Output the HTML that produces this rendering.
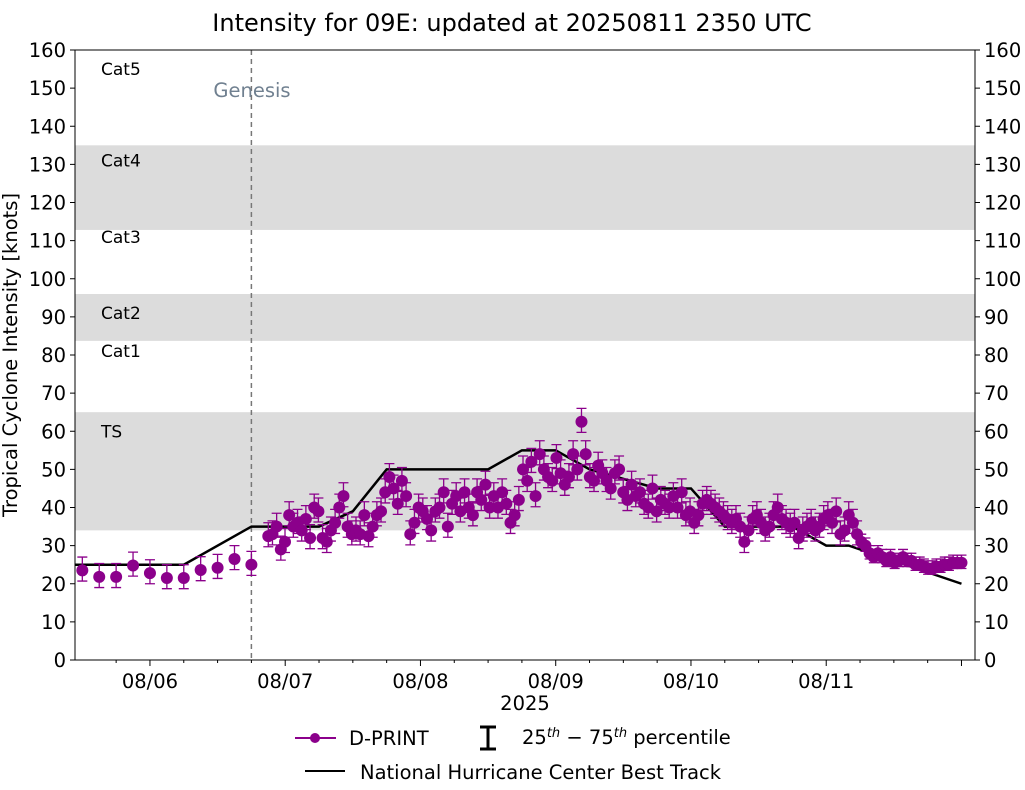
<!DOCTYPE html>
<html><head><meta charset="utf-8"><style>
body{margin:0;background:#fff;}
svg text{font-family:"DejaVu Sans","Liberation Sans",sans-serif;}
</style></head><body>
<svg id="chart" width="1025" height="785" xmlns="http://www.w3.org/2000/svg">
<text x="512" y="31" font-size="24" text-anchor="middle">Intensity for 09E: updated at 20250811 2350 UTC</text>
<g id="plot"></g>
<text transform="translate(17,355) rotate(-90)" font-size="19.5" text-anchor="middle">Tropical Cyclone Intensity [knots]</text>
<text x="525" y="710" font-size="19.5" text-anchor="middle">2025</text>
<g>
<line x1="295" y1="738" x2="336" y2="738" stroke="#8b008b" stroke-width="2"/>
<circle cx="315" cy="738" r="5" fill="#8b008b"/>
<text x="349" y="745" font-size="19.5">D-PRINT</text>
<path d="M480 727h16M488 727v22M480 749h16" stroke="#000" stroke-width="3" fill="none"/>
<text x="522" y="744" font-size="19.5">25<tspan font-size="13" dy="-7" font-style="italic">th</tspan><tspan dy="7"> − 75</tspan><tspan font-size="13" dy="-7" font-style="italic">th</tspan><tspan dy="7"> percentile</tspan></text>
<line x1="305" y1="771" x2="345" y2="771" stroke="#000" stroke-width="2"/>
<text x="360" y="779" font-size="19.5">National Hurricane Center Best Track</text>
</g>
</svg>
<script>
const earlyHours=[-12,-9,-6,-3,0,3,6,9,12,15,18];
const earlyValues=[23.5,21.8,21.8,24.8,22.8,21.5,21.5,23.6,24.2,26.5,25];
const denseStartHour=21, denseEndHour=144;
const denseValues=[32.5,33,35,29,31,38,35,36,34,37,32,40,39,32,31,34,36,40,43,35,33,34,33,38,32.5,35,38,39,44,48,45,41,47,43,33,36,40,39,37,34,39,40,44,35,41,43,39,44,40,38,44,42,46,40,43,40,44,41,36,38,42,50,47,52,43,54,50,48,47,53,49,46,48,54,50,62.5,54,48,47,51,49,47,45,49,50,44,42,46,43,44,41,40,45,39,42,41,40,43,40,44,38,39,36,38,41,42,41,40,39,38,37,36,37,35,31,34,37,38,36,34,35,38,40,37,36,35,36,32,34,35,36,34,35,37,38,36,39,33,34,38,36,33,31,30,28,27,28,27,26,27,25.5,26,27,26,26,25,25,24.5,24,24,24.5,24.5,25,25,25.5,25.5,25.5];
const pctLow=2.8, pctHigh=3.5;
const latePctLow=1.5, latePctHigh=2, lateFromHour=126;
const bestHours=[-13.3,6,18,30,36,42,60,66,72,78,90,96,102,114,120,124,144];
const bestValues=[25,25,35,35,39,50,50,55,55,50,45,45,35,35,30,30,20];
const yTicks=[0,10,20,30,40,50,60,70,80,90,100,110,120,130,140,150,160];
const dateLabels=["08/06","08/07","08/08","08/09","08/10","08/11"];
const bands=[[34,65],[83.7,96],[112.8,135]];
const catLabels=["TS","Cat1","Cat2","Cat3","Cat4","Cat5"];
const catValues=[60,81,91,111,131,155];
const genesisHour=18;

const L=75,R=975,T=50,B=660,hMin=-13.3,hMax=146.4;
const X=h=>L+(h-hMin)/(hMax-hMin)*(R-L);
const Y=v=>B-v/160*(B-T);
const NS="http://www.w3.org/2000/svg";
const plot=document.getElementById('plot');
function mk(tag,a,parent){const e=document.createElementNS(NS,tag);for(const k in a)e.setAttribute(k,a[k]);(parent||plot).appendChild(e);return e;}

bands.forEach(b=>{const r=mk('rect',{x:L,y:Y(b[1]),width:R-L,height:Y(b[0])-Y(b[1]),fill:'#dcdcdc'});

});
catLabels.forEach((c,i)=>{const t=mk('text',{x:101,y:Y(catValues[i])+6,'font-size':17});t.textContent=c;

});
const g=mk('line',{x1:X(genesisHour),x2:X(genesisHour),y1:T,y2:B,stroke:'#777','stroke-width':1.5,'stroke-dasharray':'5,4'});


const gt=mk('text',{x:X(genesisHour)-38,y:97,'font-size':19.5,fill:'#708090'});gt.textContent='Genesis';



const bp=mk('polyline',{points:bestHours.map((h,i)=>X(h)+','+Y(bestValues[i])).join(' '),fill:'none',stroke:'#000','stroke-width':2.5});



const hrs=earlyHours.slice(),vals=earlyValues.slice();
const step=(denseEndHour-denseStartHour)/(denseValues.length-1);
denseValues.forEach((v,i)=>{hrs.push(denseStartHour+i*step);vals.push(v);});
hrs.forEach((h,i)=>{
 const late=h>=lateFromHour;
 const x=X(h),v=vals[i],y1=Y(v-(late?latePctLow:pctLow)),y2=Y(v+(late?latePctHigh:pctHigh));
 const eb=mk('path',{d:`M${x} ${y1}V${y2}M${x-5} ${y1}h10M${x-5} ${y2}h10`,stroke:'#8b008b','stroke-width':1.3,fill:'none'});
 
 
});
hrs.forEach((h,i)=>{
 const c=mk('circle',{cx:X(h),cy:Y(vals[i]),r:6,fill:'#8b008b'});
 
 
});

const fr=mk('rect',{x:L,y:T,width:R-L,height:B-T,fill:'none',stroke:'#000','stroke-width':1});


yTicks.forEach(v=>{
 const y=Y(v);
 mk('line',{x1:L-5,x2:L,y1:y,y2:y,stroke:'#000'});mk('line',{x1:R,x2:R+5,y1:y,y2:y,stroke:'#000'});
 const a=mk('text',{x:L-9,y:y+7,'font-size':19.5,'text-anchor':'end'});a.textContent=v;
 
 
 const b=mk('text',{x:R+9,y:y+7,'font-size':19.5});b.textContent=v;
 
 
});
for(let h=-6;h<hMax;h+=6){const x=X(h);const major=h%24===0;
 mk('line',{x1:x,x2:x,y1:B,y2:B+(major?6:3),stroke:'#000'});}
dateLabels.forEach((d,i)=>{const t=mk('text',{x:X(i*24),y:B+28,'font-size':19.5,'text-anchor':'middle'});t.textContent=d;
 
 });
</script>
</body></html>
